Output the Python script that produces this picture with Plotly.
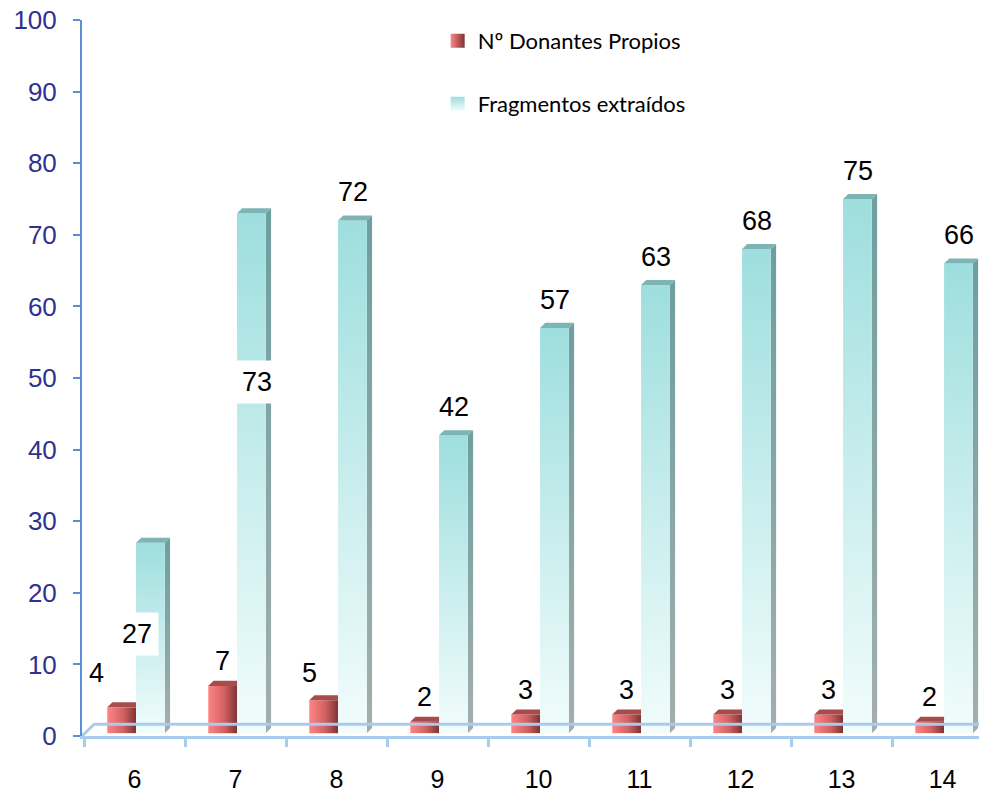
import plotly.graph_objects as go

# ---------------- data ----------------
categories = ["6", "7", "8", "9", "10", "11", "12", "13", "14"]
donantes = [4, 7, 5, 2, 3, 3, 3, 3, 2]
fragmentos = [27, 73, 72, 42, 57, 63, 68, 75, 66]
series_names = ["Nº Donantes Propios", "Fragmentos extraídos"]
y_ticks = list(range(0, 101, 10))

# ---------------- styles / geometry ----------------
BASE = 0.4          # bar base (floor) in y units
DX = 0.052          # 3D depth, x (category units)
DY = 0.7            # 3D depth, y (value units)
RED_X = (-0.27, 0.015)
CYAN_X = (0.015, 0.30)
X_MIN, X_MAX_PAD = -0.52, 0.44
RED_GRAD = [[0, "#FF8484"], [0.55, "#D36262"], [1, "#7E3434"]]
RED_TOP = "#A84B4B"
CYAN_GRAD = [[0, "#F2FCFC"], [1, "#9EDEDE"]]
CYAN_SIDE = [[0, "#A4AEAE"], [1, "#6E9E9E"]]
CYAN_TOP = "#7DB4B4"
FLOOR = "#A9CBEE"
AXIS_BLUE = "#5B8ED8"
LABEL_FONT = dict(family="Arial", size=27, color="black")
LEGEND_FONT = dict(family="Lato", size=22, color="black")

# label placement overrides: (series, index) -> (x offset from category, y value or None, yshift)
LABEL_OVERRIDES = {
    (0, 0): (-0.38, None, 34),
    (0, 2): (-0.27, None, 27),
    (1, 0): (0.02, 14.2, 0),
    (1, 1): (0.21, 49.4, 0),
}
WHITE_BOX = {(1, 0), (1, 1)}

fig = go.Figure()


def poly(xs, ys, **kw):
    fig.add_trace(go.Scatter(
        x=xs, y=ys, mode="lines", fill="toself", line=dict(width=0),
        hoverinfo="skip", showlegend=False, **kw))


n = len(categories)
# red bars
for i, v in enumerate(donantes):
    x0, x1 = i + RED_X[0], i + RED_X[1]
    poly([x0, x1, x1, x0, x0], [BASE, BASE, v, v, BASE],
         fillgradient=dict(type="horizontal", colorscale=RED_GRAD))
    poly([x0, x1, x1 + DX, x0 + DX, x0], [v, v, v + DY, v + DY, v],
         fillcolor=RED_TOP)
# cyan bars
for i, v in enumerate(fragmentos):
    x0, x1 = i + CYAN_X[0], i + CYAN_X[1]
    poly([x1, x1 + DX, x1 + DX, x1, x1], [BASE, BASE + DY, v + DY, v, BASE],
         fillgradient=dict(type="vertical", colorscale=CYAN_SIDE))
    poly([x0, x1, x1, x0, x0], [BASE, BASE, v, v, BASE],
         fillgradient=dict(type="vertical", colorscale=CYAN_GRAD))
    poly([x0, x1, x1 + DX, x0 + DX, x0], [v, v, v + DY, v + DY, v],
         fillcolor=CYAN_TOP)

# legend entries
fig.add_trace(go.Scatter(x=[None], y=[None], mode="markers", name=series_names[0],
                         marker=dict(symbol="square", size=14, color="#FF8484",
                                     line=dict(width=0),
                                     gradient=dict(type="horizontal", color="#7E3434")),
                         legend="legend"))
fig.add_trace(go.Scatter(x=[None], y=[None], mode="markers", name=series_names[1],
                         marker=dict(symbol="square", size=14, color="#9EDEDE",
                                     line=dict(width=0),
                                     gradient=dict(type="vertical", color="#F2FCFC")),
                         legend="legend2"))

# floor back edge
x_max = n - 1 + X_MAX_PAD
fig.add_trace(go.Scatter(x=[X_MIN, X_MIN + 0.12, x_max], y=[0, 1.65, 1.65], mode="lines",
                         line=dict(color=FLOOR, width=3), hoverinfo="skip", showlegend=False))

# data labels
for s, vals in enumerate([donantes, fragmentos]):
    for i, v in enumerate(vals):
        if (s, i) in LABEL_OVERRIDES:
            dxo, yv, ysh = LABEL_OVERRIDES[(s, i)]
        else:
            dxo = -0.13 if s == 0 else 0.16
            yv, ysh = None, (25 if s == 0 else 28)
        y = v if yv is None else yv
        kw = {}
        if (s, i) in WHITE_BOX:
            kw = dict(bgcolor="white", borderpad=6)
        fig.add_annotation(x=i + dxo, y=y, text=str(v), showarrow=False,
                           yshift=ysh, yanchor="middle", xanchor="center",
                           font=LABEL_FONT, **kw)

# the page body adds an 8px offset; size the figure to compensate
fig.update_layout(
    width=979, height=785,
    margin=dict(l=74, r=0, t=12, b=57),
    plot_bgcolor="white", paper_bgcolor="white",
    font=dict(family="Arial"),
    legend=dict(x=0.393, y=1.0, xanchor="left", yanchor="top",
                font=LEGEND_FONT, bgcolor="rgba(0,0,0,0)"),
    legend2=dict(x=0.393, y=0.912, xanchor="left", yanchor="top",
                 font=LEGEND_FONT, bgcolor="rgba(0,0,0,0)"),
    xaxis=dict(range=[X_MIN, x_max], tickvals=list(range(n)), ticktext=categories,
               showgrid=False, zeroline=False, showline=True, linecolor=FLOOR, linewidth=3,
               ticks="", tickfont=dict(family="Arial", size=25, color="black"),
               ticklabelstandoff=19, automargin=False, ticklabeloverflow="allow",
               minor=dict(tickvals=[k - 0.5 for k in range(n + 1)], ticks="outside",
                          ticklen=8, tickwidth=3, tickcolor=FLOOR, showgrid=False)),
    yaxis=dict(range=[0, 100], tickvals=y_ticks, showgrid=False, zeroline=False,
               showline=True, linecolor=AXIS_BLUE, linewidth=2,
               ticks="outside", ticklen=7, tickwidth=2, tickcolor=AXIS_BLUE,
               tickfont=dict(family="Arial", size=26, color="#2E3192"),
               ticklabelstandoff=11, automargin=False, ticklabeloverflow="allow"),
)

fig.write_html("out.html")
